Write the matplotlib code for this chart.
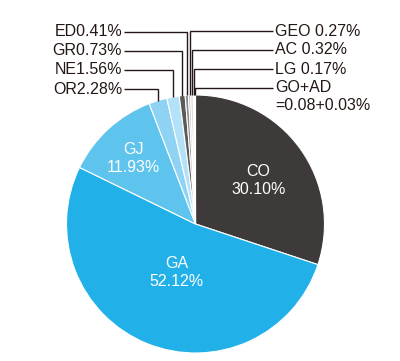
import matplotlib
matplotlib.use("Agg")
import matplotlib.pyplot as plt
import numpy as np

plt.rcParams['font.family'] = ['Liberation Sans', 'DejaVu Sans']

# Data (clockwise from top)
categories = ["CO", "GA", "GJ", "OR", "NE", "GR", "ED", "GEO", "AC", "LG", "GO", "AD"]
values = [30.10, 52.12, 11.93, 2.28, 1.56, 0.73, 0.41, 0.27, 0.32, 0.17, 0.08, 0.03]
value_labels = ["30.10%", "52.12%", "11.93%", "2.28%", "1.56%", "0.73%", "0.41%",
                "0.27%", "0.32%", "0.17%", "0.08", "0.03%"]
colors = ["#3e3a39", "#22b0e8", "#5ec4ee", "#8fd3f4", "#b3e2f8", "#5a5a5a",
          "#8c8c8c", "#bdbdbd", "#dcdcdc", "#eeeeee", "#cdeaf8", "#a6dbf2"]

W, H = 400, 361
fig = plt.figure(figsize=(W / 100, H / 100), dpi=100)
ax = fig.add_axes([0, 0, 1, 1])
ax.set_xlim(0, W)
ax.set_ylim(0, H)
ax.set_aspect('equal')
ax.axis('off')

cx, cy, R = 195.5, H - 224, 129
wedges, _ = ax.pie(values, colors=colors, startangle=90, counterclock=False,
                   center=(cx, cy), radius=R, frame=True,
                   wedgeprops=dict(edgecolor='white', linewidth=0.8))
ax.set_xlim(0, W)
ax.set_ylim(0, H)
ax.axis('off')

def mid(w):
    return np.deg2rad((w.theta1 + w.theta2) / 2)

fs = 11.5
# inner labels
inner = {"CO": 0.6, "GA": 0.39, "GJ": 0.71}
for w, c, v in zip(wedges, categories, value_labels):
    if c in inner:
        a = mid(w)
        r = inner[c] * R
        ax.text(cx + r * np.cos(a), cy + r * np.sin(a) - 2, f"{c}\n{v}",
                ha='center', va='center', color='white', fontsize=fs, linespacing=1.25)

def leader(w, ytext, xend):
    a = mid(w)
    px = cx + R * np.cos(a)
    py = cy + R * np.sin(a)
    ax.plot([px, px, xend], [py, ytext, ytext], color='#231815', lw=1.0,
            solid_joinstyle='miter', solid_capstyle='butt')

idx = {c: i for i, c in enumerate(categories)}
# left labels
left = [("ED", 31.7), ("GR", 50.5), ("NE", 70), ("OR", 89)]
for c, yp in left:
    i = idx[c]
    y = H - yp
    leader(wedges[i], y, 124)
    ax.text(122, y, f"{c}{value_labels[i]}", ha='right', va='center',
            fontsize=fs, color='#231815')

# right labels
right = [("GEO", 31), ("AC", 50), ("LG", 69)]
for c, yp in right:
    i = idx[c]
    y = H - yp
    leader(wedges[i], y, 273)
    ax.text(275, y, f"{c} {value_labels[i]}", ha='left', va='center',
            fontsize=fs, color='#231815')

# combined GO+AD
iGO, iAD = idx["GO"], idx["AD"]
y = H - 88
a = np.deg2rad((wedges[iGO].theta1 + wedges[iAD].theta2) / 2)
px = cx + R * np.cos(a)
py = cy + R * np.sin(a)
ax.plot([px, px, 273], [py, y, y], color='#231815', lw=1.0,
        solid_joinstyle='miter', solid_capstyle='butt')
ax.text(275, y, "GO+AD", ha='left', va='center', fontsize=fs, color='#231815')
ax.text(275, H - 106, f"={value_labels[iGO]}+{value_labels[iAD]}", ha='left',
        va='center', fontsize=fs, color='#231815')

fig.savefig("out.png", dpi=100)
